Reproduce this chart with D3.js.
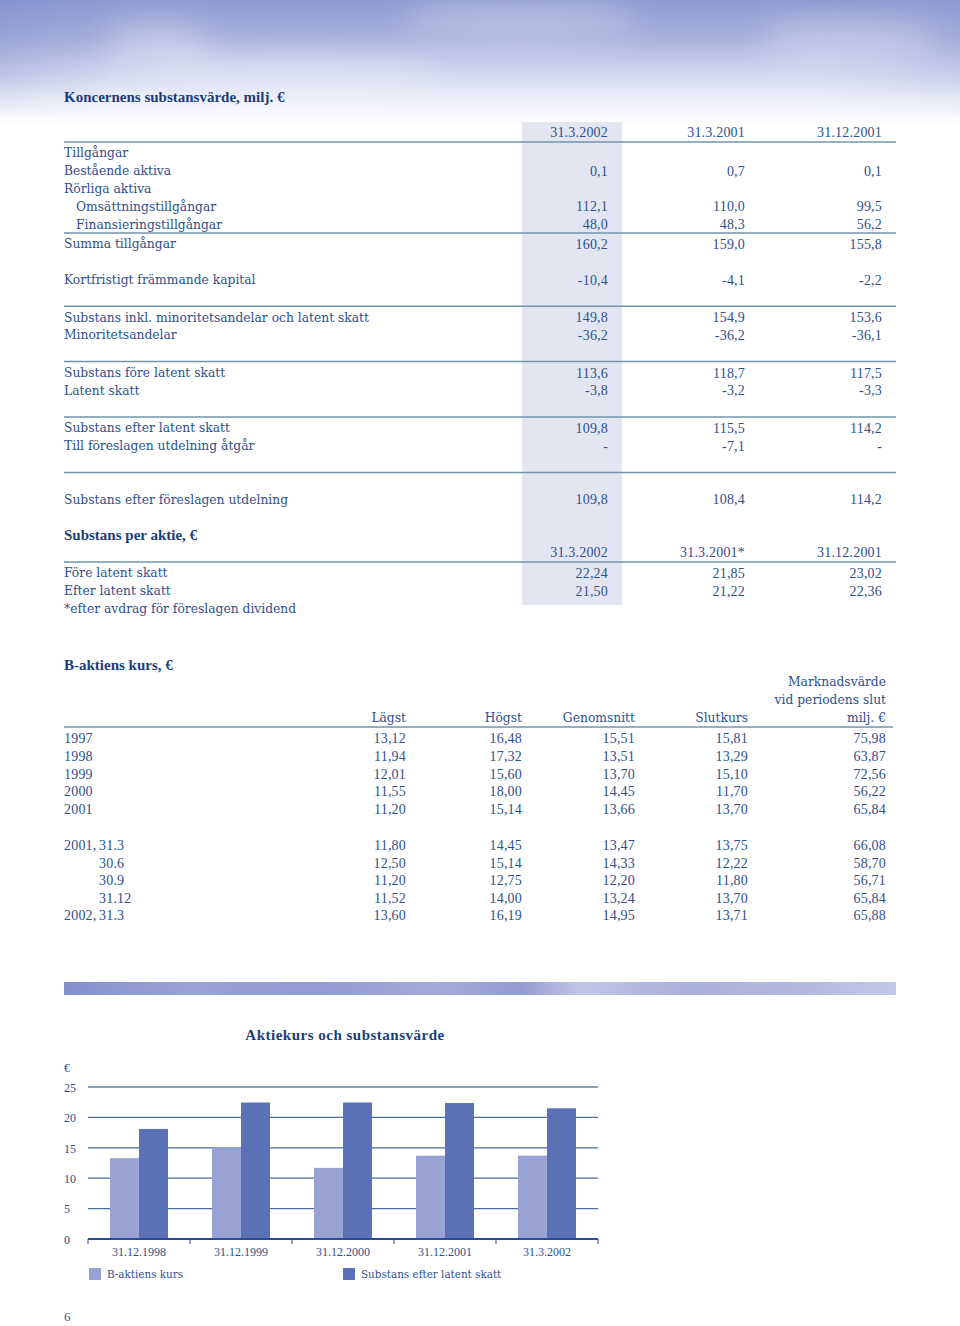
<!DOCTYPE html>
<meta charset="utf-8">
<style>
body { margin: 0; background: #fff; }
svg { display: block; font-family: "Liberation Serif", "DejaVu Serif", serif; }
.txt { fill: #2f4f8c; font-size: 12.3px; font-family: "DejaVu Serif", serif; }
.num { fill: #2f4f8c; font-size: 14px; font-family: "Liberation Serif", serif; letter-spacing: 0.2px; }
.head { fill: #1c3d7c; font-size: 15px; font-weight: bold; }
.rule { stroke: #7493ab; stroke-width: 1.5; }
.axis text { fill: #2f4f8c; font-size: 12px; font-family: "Liberation Serif", serif; }
</style>
<svg width="960" height="1326" class="top"></svg>
<script src="https://d3js.org/d3.v7.min.js"></script>
<script>

// ---- data ----
var cols1 = ["31.3.2002", "31.3.2001", "31.12.2001"];
var rows1 = [
  ["Tillgångar", null],
  ["Bestående aktiva", ["0,1", "0,7", "0,1"]],
  ["Rörliga aktiva", null],
  ["  Omsättningstillgångar", ["112,1", "110,0", "99,5"]],
  ["  Finansieringstillgångar", ["48,0", "48,3", "56,2"]],
  ["Summa tillgångar", ["160,2", "159,0", "155,8"]],
  ["Kortfristigt främmande kapital", ["-10,4", "-4,1", "-2,2"]],
  ["Substans inkl. minoritetsandelar och latent skatt", ["149,8", "154,9", "153,6"]],
  ["Minoritetsandelar", ["-36,2", "-36,2", "-36,1"]],
  ["Substans före latent skatt", ["113,6", "118,7", "117,5"]],
  ["Latent skatt", ["-3,8", "-3,2", "-3,3"]],
  ["Substans efter latent skatt", ["109,8", "115,5", "114,2"]],
  ["Till föreslagen utdelning åtgår", ["-", "-7,1", "-"]],
  ["Substans efter föreslagen utdelning", ["109,8", "108,4", "114,2"]]
];
// how the rows above are separated: r = row, g = blank line, h = short blank, l = rule
var order1 = "rrrrrlrgrglrrglrrglrrglhr";

var cols2 = ["31.3.2002", "31.3.2001*", "31.12.2001"];
var rows2 = [
  ["Före latent skatt", ["22,24", "21,85", "23,02"]],
  ["Efter latent skatt", ["21,50", "21,22", "22,36"]]
];
var note2 = "*efter avdrag för föreslagen dividend";

var cols3 = ["Lägst", "Högst", "Genomsnitt", "Slutkurs", "milj. €"];
var cols3top = ["Marknadsvärde", "vid periodens slut"];
var years3 = ["1997", "1998", "1999", "2000", "2001"];
var vals3 = [
  ["13,12", "16,48", "15,51", "15,81", "75,98"],
  ["11,94", "17,32", "13,51", "13,29", "63,87"],
  ["12,01", "15,60", "13,70", "15,10", "72,56"],
  ["11,55", "18,00", "14,45", "11,70", "56,22"],
  ["11,20", "15,14", "13,66", "13,70", "65,84"]
];
var periods3 = ["2001, 31.3", "30.6", "30.9", "31.12", "2002, 31.3"];
var pvals3 = [
  ["11,80", "14,45", "13,47", "13,75", "66,08"],
  ["12,50", "15,14", "14,33", "12,22", "58,70"],
  ["11,20", "12,75", "12,20", "11,80", "56,71"],
  ["11,52", "14,00", "13,24", "13,70", "65,84"],
  ["13,60", "16,19", "14,95", "13,71", "65,88"]
];

var dates = ["31.12.1998", "31.12.1999", "31.12.2000", "31.12.2001", "31.3.2002"];
var kurs = [13.29, 15.10, 11.70, 13.70, 13.71];
var substans = [18.1, 22.45, 22.45, 22.36, 21.50];
var series = ["B-aktiens kurs", "Substans efter latent skatt"];
var yTicks = [0, 5, 10, 15, 20, 25];

// ---- page ----
var svg = d3.select(".top");
var defs = svg.append("defs");

var sky = defs.append("linearGradient").attr("id", "sky")
  .attr("x1", 0).attr("y1", 0).attr("x2", 0).attr("y2", 1);
[[0, "#8c9ad2"], [0.3, "#a6b1de"], [0.55, "#cdd3ee"], [0.8, "#eef0f9"], [1, "#ffffff"]]
  .forEach(function(s) { sky.append("stop").attr("offset", s[0]).attr("stop-color", s[1]); });
var side = defs.append("linearGradient").attr("id", "side");
[[0, "#7f8ecb", 0.45], [0.12, "#7f8ecb", 0], [0.85, "#8f9bd2", 0], [1, "#8f9bd2", 0.3]]
  .forEach(function(s) { side.append("stop").attr("offset", s[0]).attr("stop-color", s[1]).attr("stop-opacity", s[2]); });
var side2 = defs.append("linearGradient").attr("id", "fade")
  .attr("x1", 0).attr("y1", 0).attr("x2", 0).attr("y2", 1);
[[0, "#fff", 1], [0.6, "#fff", 0.6], [1, "#fff", 0]]
  .forEach(function(s) { side2.append("stop").attr("offset", s[0]).attr("stop-color", s[1]).attr("stop-opacity", s[2]); });
defs.append("mask").attr("id", "fadeMask").append("rect").attr("width", 960).attr("height", 120).attr("fill", "url(#fade)");
defs.append("filter").attr("id", "blur").attr("x", "-50%").attr("y", "-50%").attr("width", "200%").attr("height", "200%")
  .append("feGaussianBlur").attr("stdDeviation", 16);

svg.append("rect").attr("width", 960).attr("height", 125).attr("fill", "url(#sky)");
svg.append("rect").attr("width", 960).attr("height", 120).attr("fill", "url(#side)").attr("mask", "url(#fadeMask)");
var clouds = svg.append("g").attr("filter", "url(#blur)").attr("fill", "#ffffff").attr("opacity", 0.3);
[[160, 45, 50, 22], [520, 20, 120, 18], [850, 40, 90, 20], [300, 70, 140, 14]].forEach(function(c) {
  clouds.append("ellipse").attr("cx", c[0]).attr("cy", c[1]).attr("rx", c[2]).attr("ry", c[3]);
});

// highlighted first value column
svg.append("rect").attr("x", 522).attr("y", 122).attr("width", 100).attr("height", 483).attr("fill", "#e3e6f2");

var colX1 = [608, 745, 882];

function cls(s) { return /^[\d.,\s*\-]+$/.test(s) ? "num" : "txt"; }
function header(y, label) {
  svg.append("text").attr("class", "head").attr("x", 64).attr("y", y).attr("dy", "0.35em").text(label);
}
function rule(y, x2) {
  svg.append("line").attr("class", "rule").attr("x1", 64).attr("x2", x2 || 896).attr("y1", y).attr("y2", y);
}
function row(y, label, vals, xs, labelX) {
  if (label != null) {
    var indent = /^  /.test(label);
    svg.append("text").attr("class", cls(label)).attr("x", labelX || (indent ? 76 : 64)).attr("y", y)
      .attr("dy", "0.35em").text(label.trim());
  }
  if (vals) vals.forEach(function(v, i) {
    svg.append("text").attr("class", cls(v)).attr("x", xs[i]).attr("y", y).attr("dy", "0.35em")
      .attr("text-anchor", "end").text(v);
  });
}

// table 1
header(97, "Koncernens substansvärde, milj. €");
row(132, null, cols1, colX1);
rule(142);
var next = 153, ri = 0;
order1.split("").forEach(function(t) {
  if (t === "r") { row(next, rows1[ri][0], rows1[ri][1], colX1); ri++; next += 17.8; }
  else if (t === "g") { next += 17.8; }
  else if (t === "h") { next += 16; }
  else { var ly = next - 9; rule(ly); next = ly + 11; }
});

// table 2
header(535, "Substans per aktie, €");
row(552, null, cols2, colX1);
rule(562);
rows2.forEach(function(r, i) { row(573 + i * 17.8, r[0], r[1], colX1); });
row(573 + rows2.length * 17.8, note2, null);

// table 3
var colX3 = [406, 522, 635, 748, 886];
header(665, "B-aktiens kurs, €");
cols3top.forEach(function(c, i) { row(682 + i * 18, null, [c], [886]); });
row(718, null, cols3, colX3);
rule(727, 893);
years3.forEach(function(y, i) { row(738 + i * 17.8, y, vals3[i], colX3); });
periods3.forEach(function(p, i) {
  var parts = p.split(", ");
  var y = 845 + i * 17.6;
  if (parts.length > 1) row(y, parts[0] + ",", null);
  row(y, parts[parts.length - 1], pvals3[i], colX3, 99);
});

// decorative band
var band = defs.append("linearGradient").attr("id", "band");
[[0, "#8590cc"], [0.15, "#9aa3d6"], [0.3, "#929bd2"], [0.45, "#a3abda"], [0.55, "#939cd2"],
 [0.62, "#c0c6e6"], [0.75, "#a8b0dc"], [0.9, "#b4bbe0"], [1, "#c2c8e8"]]
  .forEach(function(s) { band.append("stop").attr("offset", s[0]).attr("stop-color", s[1]); });
svg.append("rect").attr("x", 64).attr("y", 982).attr("width", 832).attr("height", 13).attr("fill", "url(#band)");

// ---- chart ----
svg.append("text").attr("x", 345).attr("y", 1035).attr("dy", "0.35em").attr("text-anchor", "middle")
  .attr("fill", "#1c3d7c").style("font-size", "15px").style("font-weight", "bold").style("letter-spacing", "0.5px")
  .text("Aktiekurs och substansvärde");
svg.append("text").attr("x", 64).attr("y", 1068).attr("dy", "0.35em").attr("fill", "#2f4f8c")
  .style("font-size", "12px").text("€");

var x = d3.scaleBand().domain(dates).range([88, 598]);
var xi = d3.scaleBand().domain(series).range([0, x.bandwidth()]).paddingOuter(0.76);
var y = d3.scaleLinear().domain([0, 25]).range([1239, 1087]);
var z = d3.scaleOrdinal().domain(series).range(["#98a2d3", "#5b70b5"]);

var grid = svg.append("g");
grid.selectAll("line").data(yTicks.slice(1)).enter().append("line")
  .attr("x1", 88).attr("x2", 598)
  .attr("y1", function(d) { return y(d); }).attr("y2", function(d) { return y(d); })
  .attr("stroke", function(d) { return d === 25 ? "#8ea0b8" : "#4d6d9e"; })
  .attr("stroke-width", function(d) { return d === 25 ? 2 : 1.3; });

var yAxis = svg.append("g").attr("class", "axis")
  .call(d3.axisLeft(y).tickValues(yTicks).tickSize(0).tickPadding(0));
yAxis.select(".domain").remove();
yAxis.selectAll("text").attr("x", 64).attr("text-anchor", "start").attr("dy", "0.35em");

var data = dates.map(function(d, i) { return {date: d, vals: [kurs[i], substans[i]]}; });
svg.append("g").selectAll("g").data(data).enter().append("g")
    .attr("transform", function(d) { return "translate(" + x(d.date) + ",0)"; })
  .selectAll("rect").data(function(d) { return d.vals.map(function(v, i) { return {key: series[i], v: v}; }); })
  .enter().append("rect")
    .attr("x", function(d) { return xi(d.key); })
    .attr("width", xi.bandwidth())
    .attr("y", function(d) { return y(d.v); })
    .attr("height", function(d) { return y(0) - y(d.v); })
    .attr("fill", function(d) { return z(d.key); });

// x axis with ticks at band edges
var xAxis = svg.append("g").attr("class", "axis").attr("transform", "translate(0," + y(0) + ")")
  .call(d3.axisBottom(x).tickSize(0).tickPadding(8));
xAxis.select(".domain").attr("stroke", "#2b4a98").attr("stroke-width", 2).attr("d", "M88,0H598");
xAxis.selectAll(".edge").data(dates.concat([null])).enter().append("line")
  .attr("x1", function(d, i) { return 88 + i * x.step(); })
  .attr("x2", function(d, i) { return 88 + i * x.step(); })
  .attr("y1", 0).attr("y2", 5).attr("stroke", "#2b4a98");

// legend
var legend = svg.selectAll(".legend").data(series).enter().append("g")
  .attr("transform", function(d, i) { return "translate(" + (89 + i * 254) + ",1274)"; });
legend.append("rect").attr("y", -6).attr("width", 12).attr("height", 12).attr("fill", z);
legend.append("text").attr("x", 18).attr("dy", "0.35em").attr("fill", "#2f4f8c")
  .style("font-size", "10.4px").style("font-family", "DejaVu Serif, serif").text(function(d) { return d; });

svg.append("text").attr("x", 64).attr("y", 1316).attr("dy", "0.35em").attr("fill", "#2f4f8c")
  .style("font-size", "13px").text("6");

</script>
